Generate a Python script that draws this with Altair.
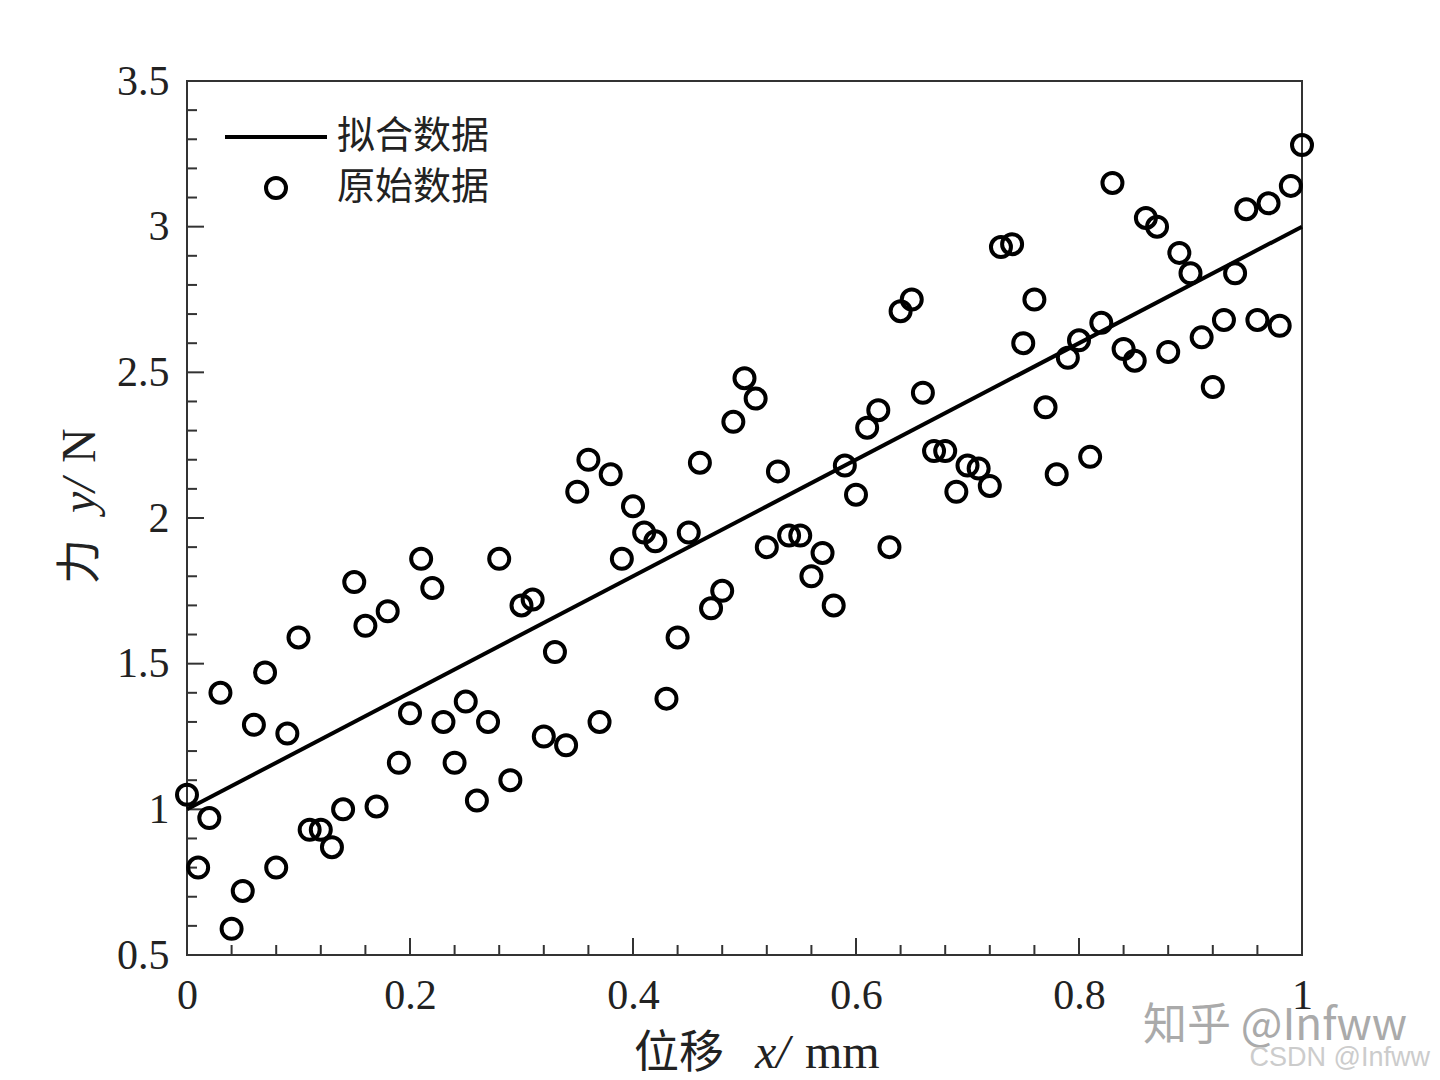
import altair as alt
import pandas as pd

# ---- data ----
x_vals = [0.00, 0.01, 0.02, 0.03, 0.04, 0.05, 0.06, 0.07, 0.08, 0.09,
          0.10, 0.11, 0.12, 0.13, 0.14, 0.15, 0.16, 0.17, 0.18, 0.19,
          0.20, 0.21, 0.22, 0.23, 0.24, 0.25, 0.26, 0.27, 0.28, 0.29,
          0.30, 0.31, 0.32, 0.33, 0.34, 0.35, 0.36, 0.37, 0.38, 0.39,
          0.40, 0.41, 0.42, 0.43, 0.44, 0.45, 0.46, 0.47, 0.48, 0.49,
          0.50, 0.51, 0.52, 0.53, 0.54, 0.55, 0.56, 0.57, 0.58, 0.59,
          0.60, 0.61, 0.62, 0.63, 0.64, 0.65, 0.66, 0.67, 0.68, 0.69,
          0.70, 0.71, 0.72, 0.73, 0.74, 0.75, 0.76, 0.77, 0.78, 0.79,
          0.80, 0.81, 0.82, 0.83, 0.84, 0.85, 0.86, 0.87, 0.88, 0.89,
          0.90, 0.91, 0.92, 0.93, 0.94, 0.95, 0.96, 0.97, 0.98, 0.99,
          1.00]
y_vals = [1.05, 0.80, 0.97, 1.40, 0.59, 0.72, 1.29, 1.47, 0.80, 1.26,
          1.59, 0.93, 0.93, 0.87, 1.00, 1.78, 1.63, 1.01, 1.68, 1.16,
          1.33, 1.86, 1.76, 1.30, 1.16, 1.37, 1.03, 1.30, 1.86, 1.10,
          1.70, 1.72, 1.25, 1.54, 1.22, 2.09, 2.20, 1.30, 2.15, 1.86,
          2.04, 1.95, 1.92, 1.38, 1.59, 1.95, 2.19, 1.69, 1.75, 2.33,
          2.48, 2.41, 1.90, 2.16, 1.94, 1.94, 1.80, 1.88, 1.70, 2.18,
          2.08, 2.31, 2.37, 1.90, 2.71, 2.75, 2.43, 2.23, 2.23, 2.09,
          2.18, 2.17, 2.11, 2.93, 2.94, 2.60, 2.75, 2.38, 2.15, 2.55,
          2.61, 2.21, 2.67, 3.15, 2.58, 2.54, 3.03, 3.00, 2.57, 2.91,
          2.84, 2.62, 2.45, 2.68, 2.84, 3.06, 2.68, 3.08, 2.66, 3.14,
          3.28]
fit_x = [0.0, 1.0]
fit_y = [1.0, 3.0]

x_major = [0, 0.2, 0.4, 0.6, 0.8, 1.0]
x_minor = [0.04, 0.08, 0.12, 0.16, 0.24, 0.28, 0.32, 0.36, 0.44, 0.48,
           0.52, 0.56, 0.64, 0.68, 0.72, 0.76, 0.84, 0.88, 0.92, 0.96]
y_major = [0.5, 1.0, 1.5, 2.0, 2.5, 3.0, 3.5]
y_minor = [0.6, 0.7, 0.8, 0.9, 1.1, 1.2, 1.3, 1.4, 1.6, 1.7, 1.8, 1.9,
           2.1, 2.2, 2.3, 2.4, 2.6, 2.7, 2.8, 2.9, 3.1, 3.2, 3.3, 3.4]

legend_labels = ["拟合数据", "原始数据"]
x_title_parts = ["位移", "x/", "mm"]
y_title_parts = ["力", "y/", "N"]
watermarks = ["知乎 @Infww", "CSDN @Infww"]

W, H = 1115, 874
SERIF = "Liberation Serif"
CJK = "Noto Sans CJK SC"
TXT = "#222222"
AX = "#333333"
SW = 4

xscale = alt.Scale(domain=[0, 1], nice=False, zero=False)
yscale = alt.Scale(domain=[0.5, 3.5], nice=False, zero=False)

xaxis = alt.Axis(values=x_major, format="~g", labelFont=SERIF, labelFontSize=42,
                 labelColor=TXT, labelPadding=20, labelFlush=False, labelOverlap=False,
                 ticks=False, tickSize=0, domain=False, grid=False, title="")
yaxis = alt.Axis(values=y_major, format="~g", labelFont=SERIF, labelFontSize=42,
                 labelColor=TXT, labelPadding=18, labelOverlap=False,
                 ticks=False, tickSize=0, domain=False, grid=False, title="")

df = pd.DataFrame({"x": x_vals, "y": y_vals})
fit = pd.DataFrame({"x": fit_x, "y": fit_y})

points = alt.Chart(df).mark_point(shape="circle", filled=False, size=400,
                                  strokeWidth=SW, color="black", opacity=1).encode(
    x=alt.X("x:Q", scale=xscale, axis=xaxis),
    y=alt.Y("y:Q", scale=yscale, axis=yaxis),
)

line = alt.Chart(fit).mark_line(color="black", strokeWidth=SW).encode(
    x=alt.X("x:Q", scale=xscale),
    y=alt.Y("y:Q", scale=yscale),
)

# inward ticks
xmaj = alt.Chart(pd.DataFrame({"v": x_major})).mark_rule(color=AX, strokeWidth=2).encode(
    x=alt.X("v:Q", scale=xscale), y=alt.value(H), y2=alt.value(H - 17))
xmin = alt.Chart(pd.DataFrame({"v": x_minor})).mark_rule(color=AX, strokeWidth=2).encode(
    x=alt.X("v:Q", scale=xscale), y=alt.value(H), y2=alt.value(H - 10))
ymaj = alt.Chart(pd.DataFrame({"v": y_major})).mark_rule(color=AX, strokeWidth=2).encode(
    y=alt.Y("v:Q", scale=yscale), x=alt.value(0), x2=alt.value(17))
ymin = alt.Chart(pd.DataFrame({"v": y_minor})).mark_rule(color=AX, strokeWidth=2).encode(
    y=alt.Y("v:Q", scale=yscale), x=alt.value(0), x2=alt.value(10))

# legend
leg_line = alt.Chart(pd.DataFrame({"k": [legend_labels[0]]})).mark_rule(
    color="black", strokeWidth=SW).encode(x=alt.value(38), x2=alt.value(140), y=alt.value(56))
leg_pt = alt.Chart(pd.DataFrame({"k": [legend_labels[1]]})).mark_point(
    shape="circle", filled=False, size=400, strokeWidth=SW, color="black", opacity=1).encode(
    x=alt.value(89), y=alt.value(107))
leg_t1 = alt.Chart(pd.DataFrame({"k": [legend_labels[0]]})).mark_text(
    font=CJK, fontSize=38, color=TXT, align="left", baseline="middle").encode(
    text="k:N", x=alt.value(150), y=alt.value(56))
leg_t2 = alt.Chart(pd.DataFrame({"k": [legend_labels[1]]})).mark_text(
    font=CJK, fontSize=38, color=TXT, align="left", baseline="middle").encode(
    text="k:N", x=alt.value(150), y=alt.value(107))

def txt(s, x, y, font, size, color=TXT, italic=False, angle=0, align="left"):
    kw = dict(font=font, fontSize=size, color=color, align=align, baseline="alphabetic")
    if italic:
        kw["fontStyle"] = "italic"
    if angle:
        kw["angle"] = angle
    return alt.Chart(pd.DataFrame({"k": [s]})).mark_text(**kw).encode(
        text="k:N", x=alt.value(x), y=alt.value(y))

titles = [
    txt(x_title_parts[0], 447, 987, CJK, 45),
    txt(x_title_parts[1], 568, 987, SERIF, 48, italic=True),
    txt(x_title_parts[2], 618, 987, SERIF, 48),
    txt(y_title_parts[0], -92, 503, CJK, 45, angle=270),
    txt(y_title_parts[1], -92, 432, SERIF, 48, italic=True, angle=270),
    txt(y_title_parts[2], -92, 382, SERIF, 48, angle=270),
    txt(watermarks[0], 956, 959, CJK, 44, color="#aaaaaa"),
    txt(watermarks[1], 1243, 985, "Liberation Sans", 27, color="#cccccc", align="right"),
]

chart = alt.layer(
    xmin, xmaj, ymin, ymaj, line, points,
    leg_line, leg_pt, leg_t1, leg_t2, *titles
).properties(
    width=W, height=H,
    autosize=alt.AutoSizeParams(type="none"),
    padding={"left": 179, "top": 73, "right": 130, "bottom": 124},
    background="white",
).configure_view(stroke=AX, strokeWidth=2)

chart.save("out.html", embed_options={"renderer": "svg", "actions": False})
